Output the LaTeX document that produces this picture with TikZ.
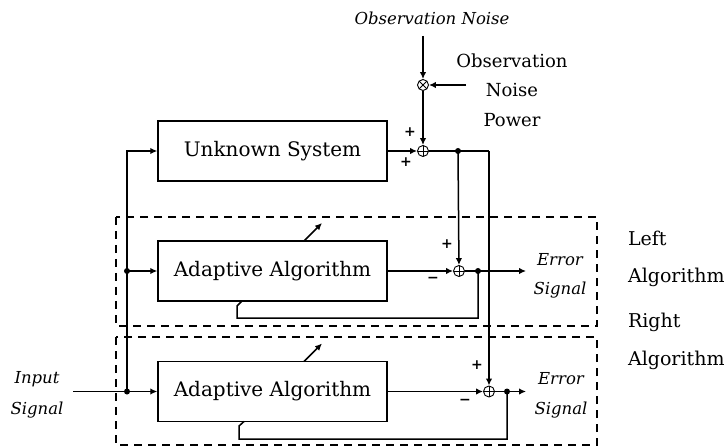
\documentclass[tikz,border=0pt]{standalone}
\usepackage{fontspec}
\setmainfont{DejaVu Serif}
\usetikzlibrary{arrows.meta}
\begin{document}
\begin{tikzpicture}[x=1pt,y=-1pt,
  line width=1.5pt,
  arr/.style={-{Latex[length=7pt,width=6.5pt]}},
  blk/.style={draw,minimum width=229pt,minimum height=60pt,inner sep=0pt,font=\fontsize{20}{22}\selectfont},
  sumnode/.style={draw,circle,minimum size=11pt,inner sep=0pt,line width=0.9pt,
    path picture={\draw[line width=0.9pt] (path picture bounding box.north)--(path picture bounding box.south)
      (path picture bounding box.west)--(path picture bounding box.east);}},
  mulnode/.style={draw,circle,minimum size=11pt,inner sep=0pt,line width=0.9pt,
    path picture={\draw[line width=0.9pt] (path picture bounding box.north west)--(path picture bounding box.south east)
      (path picture bounding box.south west)--(path picture bounding box.north east);}},
  dotnode/.style={circle,fill,minimum size=6pt,inner sep=0pt},
  dashbox/.style={draw,dash pattern=on 8pt off 6pt,line width=1.4pt},
  lbl/.style={font=\fontsize{18}{20}\selectfont},
  sidelbl/.style={font=\fontsize{19}{21}\selectfont,anchor=west},
  itl/.style={font=\fontsize{16.5}{18}\selectfont\itshape},
  sgn/.style={font=\fontsize{14}{15}\selectfont\bfseries,inner sep=0pt}
]
\useasboundingbox (0,0) rectangle (728,446);
% dashed frames
\draw[dashbox] (116,217) rectangle (597,326);
\draw[dashbox] (116,337) rectangle (597,445);
% blocks
\node[blk] (us) at (272.5,151) {Unknown System};
\node[blk] (aa1) at (272.5,271) {Adaptive Algorithm};
\node[blk] (aa2) at (272.5,391.5) {Adaptive Algorithm};
% junctions
\node[sumnode] (s0) at (423,151) {};
\node[sumnode] (s1) at (459,271) {};
\node[sumnode] (s2) at (489,391.5) {};
\node[mulnode] (m) at (423,85) {};
% coordinates and dots
\coordinate (on) at (423,36);
\coordinate (np) at (466,85);
\node[dotnode] (j0) at (458,151) {};
\coordinate (c0) at (489,151);
\node[dotnode] (d1) at (127,271) {};
\node[dotnode] (d2) at (127,391.5) {};
\coordinate (in) at (73,391.5);
\node[dotnode] (e1) at (478,271) {};
\coordinate (eo1) at (526,271);
\node[dotnode] (e2) at (507,391.5) {};
\coordinate (eo2) at (526,391.5);
\coordinate (f1a) at (478,318);
\coordinate (f1b) at (237,318);
\coordinate (f1c) at (237,306);
\coordinate (f1d) at (242,301);
\coordinate (f2a) at (507,439);
\coordinate (f2b) at (239,439);
\coordinate (f2c) at (239,426);
\coordinate (f2d) at (244,421.5);
\coordinate (a1s) at (304,241);
\coordinate (a1e) at (322,223);
\coordinate (a2s) at (304,361.5);
\coordinate (a2e) at (322,343.5);
% noise path
\draw[arr] (on) -- (m);
\draw[arr] (np) -- (m);
\draw[arr] (m) -- (s0);
% unknown system path
\draw[arr] (d2.center) |- (us.west);
\draw[arr] (us.east) -- (s0);
\draw (s0) -- (j0.center) -- (c0);
\draw[arr] (j0.center) -- (s1);
\draw[arr] (c0) -- (s2);
% left algorithm
\draw[arr] (d1.center) -- (aa1.west);
\draw[arr] (aa1.east) -- (s1);
\draw[arr] (s1) -- (e1.center) -- (eo1);
\draw (e1.center) -- (f1a) -- (f1b) -- (f1c) -- (f1d);
\draw[arr] (a1s) -- (a1e);
% right algorithm
\draw (in) -- (d2.center);
\draw[arr] (d2.center) -- (aa2.west);
\draw[arr] (aa2.east) -- (s2);
\draw[arr] (s2) -- (e2.center) -- (eo2);
\draw (e2.center) -- (f2a) -- (f2b) -- (f2c) -- (f2d);
\draw[arr] (a2s) -- (a2e);
% signs
\node[sgn] (p0a) at (410,132) {+};
\node[sgn] (p0b) at (406,162) {+};
\node[sgn] (p1a) at (447,244) {+};
\node[sgn] (p1b) at (433,280) {−};
\node[sgn] (p2a) at (477,365) {+};
\node[sgn] (p2b) at (465,402) {−};
% labels
\node[itl] (onl) at (432,18) {Observation Noise};
\node[lbl] (onp1) at (512,61) {Observation};
\node[lbl] (onp2) at (512,90) {Noise};
\node[lbl] (onp3) at (512,120) {Power};
\node[itl] (es1a) at (560,260) {Error};
\node[itl] (es1b) at (560,290) {Signal};
\node[itl] (es2a) at (561,379) {Error};
\node[itl] (es2b) at (561,410) {Signal};
\node[itl] (is1) at (37,379) {Input};
\node[itl] (is2) at (37,410) {Signal};
\node[sidelbl] (la1) at (624,238) {Left};
\node[sidelbl] (la2) at (624,277) {Algorithm};
\node[sidelbl] (ra1) at (624,322) {Right};
\node[sidelbl] (ra2) at (624,360) {Algorithm};
\end{tikzpicture}
\end{document}
